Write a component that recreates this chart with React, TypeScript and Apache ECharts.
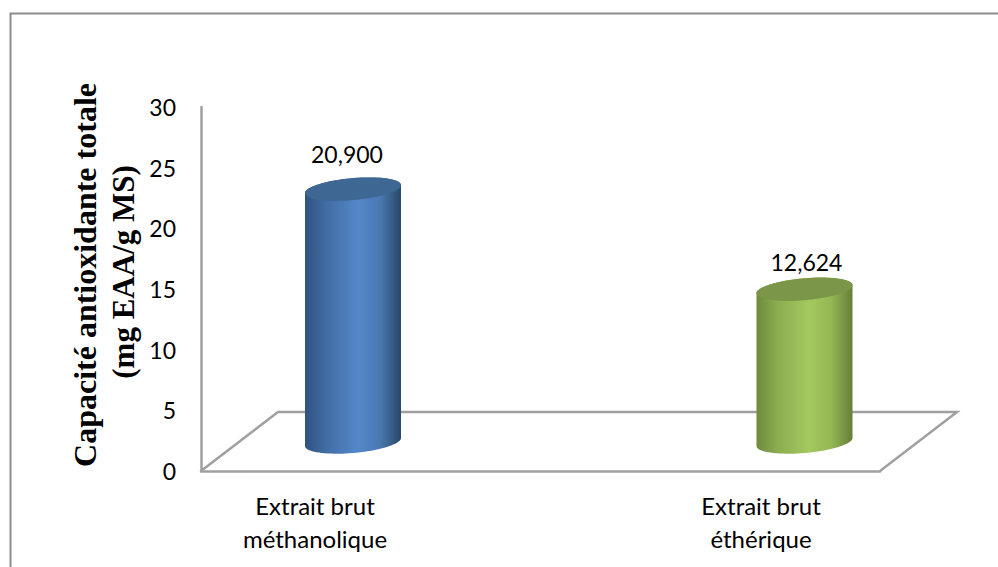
import React, { useEffect, useRef } from "react";
import * as echarts from "echarts";

const categories = ["Extrait brut\nméthanolique", "Extrait brut\néthérique"];
const capacityValues = [20.9, 12.624];
const capacityLabels = ["20,900", "12,624"];
const yTicks = { min: 0, max: 30, interval: 5 };
const titleLines = ["Capacité antioxidante totale", "(mg EAA/g MS)"];

// Colour stops for each cylinder: side gradient and the flat top face.
const bodyStops = [
  ["#2f5380", "#416ca2", "#5488c9", "#4a78b1", "#2a4869"],
  ["#6e8a3e", "#8cad50", "#a3c95f", "#94b654", "#667f39"],
];
const topFaces = ["#3f6794", "#7b9648"];
const valueLabelNudge = [[-6, -35], [2, -27]];

const HALF_WIDTH = 48;
const TILT = 4;
const MINOR = 11;

// One point on the sheared ellipse that forms a cylinder's cap.
function capPoint(cx: number, cy: number, t: number): number[] {
  return [
    cx + HALF_WIDTH * Math.cos(t),
    cy - TILT * Math.cos(t) - MINOR * Math.sin(t),
  ];
}

function capOutline(cx: number, cy: number, from: number, to: number, n = 40) {
  const pts: number[][] = [];
  for (let i = 0; i <= n; i++) {
    pts.push(capPoint(cx, cy, from + ((to - from) * i) / n));
  }
  return pts;
}

function renderCylinder(params: any, api: any) {
  const idx = params.dataIndex;
  const [cx, topY] = api.coord([api.value(0), api.value(1)]);
  const [, baseY] = api.coord([api.value(0), 0]);
  const stops = bodyStops[idx];
  const offsets = [0, 0.22, 0.55, 0.78, 1];
  const side = new echarts.graphic.LinearGradient(
    0,
    0,
    1,
    0,
    stops.map((color, i) => ({ offset: offsets[i], color }))
  );
  // Upper half of the top cap joined to the lower half of the base cap.
  const body = [
    ...capOutline(cx, topY, Math.PI, 0),
    ...capOutline(cx, baseY, 0, -Math.PI),
  ];
  const nudge = valueLabelNudge[idx];
  return {
    type: "group",
    children: [
      { type: "polygon", shape: { points: body }, style: { fill: side } },
      {
        type: "polygon",
        shape: { points: capOutline(cx, topY, 0, Math.PI * 2, 72) },
        style: { fill: topFaces[idx] },
      },
      {
        type: "text",
        style: {
          x: cx + nudge[0],
          y: topY + nudge[1],
          text: capacityLabels[idx],
          fill: "#000",
          font: "23px Lato",
          align: "center",
          verticalAlign: "middle",
        },
      },
    ],
  };
}

export default function App() {
  const ref = useRef<HTMLDivElement>(null);

  useEffect(() => {
    const chart = echarts.init(ref.current!, undefined, { renderer: "svg" });
    const gray = "#a0a0a0";
    const hidden = { show: false };
    chart.setOption({
      animation: false,
      backgroundColor: "#fff",
      grid: [
        // Front plane: carries the visible value axis and the floor's front edge.
        { left: 201, top: 107, width: 679, height: 364 },
        // Plane through the middle of the floor; the two categories sit on its ends.
        { left: 353, top: 79, width: 451.5, height: 363 },
        // Carries the category labels under the floor, again on the ends.
        { left: 315, top: 108, width: 446, height: 363 },
      ],
      xAxis: [
        {
          gridIndex: 0,
          type: "category",
          data: ["", ""],
          axisLine: { lineStyle: { color: gray, width: 2.5 } },
          axisTick: hidden,
          axisLabel: hidden,
        },
        {
          gridIndex: 1,
          type: "category",
          boundaryGap: false,
          data: categories,
          show: false,
        },
        {
          gridIndex: 2,
          type: "category",
          boundaryGap: false,
          data: categories,
          axisLine: hidden,
          axisTick: hidden,
          axisLabel: {
            color: "#000",
            fontFamily: "Lato",
            fontSize: 24,
            lineHeight: 33,
            margin: 18,
            interval: 0,
            hideOverlap: false,
          },
        },
      ],
      yAxis: [
        {
          gridIndex: 0,
          type: "value",
          ...yTicks,
          axisLine: { show: true, lineStyle: { color: gray, width: 2.5 } },
          axisTick: hidden,
          splitLine: hidden,
          axisLabel: {
            color: "#000",
            fontFamily: "Lato",
            fontSize: 23,
            margin: 25,
          },
        },
        { gridIndex: 1, type: "value", ...yTicks, show: false },
        { gridIndex: 2, type: "value", ...yTicks, show: false },
      ],
      series: [
        {
          type: "custom",
          xAxisIndex: 1,
          yAxisIndex: 1,
          clip: false,
          renderItem: renderCylinder,
          data: capacityValues.map((v, i) => [i, v]),
          z: 5,
        },
      ],
      graphic: [
        // Outer frame: left and top edges only.
        {
          type: "polyline",
          shape: { points: [[10.5, 567], [10.5, 13.5], [998, 13.5]] },
          style: { stroke: "#8c8c8c", fill: "none", lineWidth: 2 },
          z: 0,
        },
        // Remaining edges of the floor.
        {
          type: "polyline",
          shape: { points: [[201, 471], [278, 412], [957, 412], [880, 471]] },
          style: { stroke: gray, fill: "none", lineWidth: 2.5 },
          z: 1,
        },
        {
          type: "text",
          x: 85,
          y: 275,
          rotation: Math.PI / 2,
          style: {
            text: titleLines[0],
            font: "bold 32px 'Liberation Serif'",
            fill: "#000",
            align: "center",
            verticalAlign: "middle",
          },
        },
        {
          type: "text",
          x: 123,
          y: 272,
          rotation: Math.PI / 2,
          style: {
            text: titleLines[1],
            font: "bold 31px 'Liberation Serif'",
            fill: "#000",
            align: "center",
            verticalAlign: "middle",
          },
        },
      ],
    });
    return () => chart.dispose();
  }, []);

  return (
    <div
      ref={ref}
      style={{ position: "fixed", left: 0, top: 0, width: 998, height: 567 }}
    />
  );
}
